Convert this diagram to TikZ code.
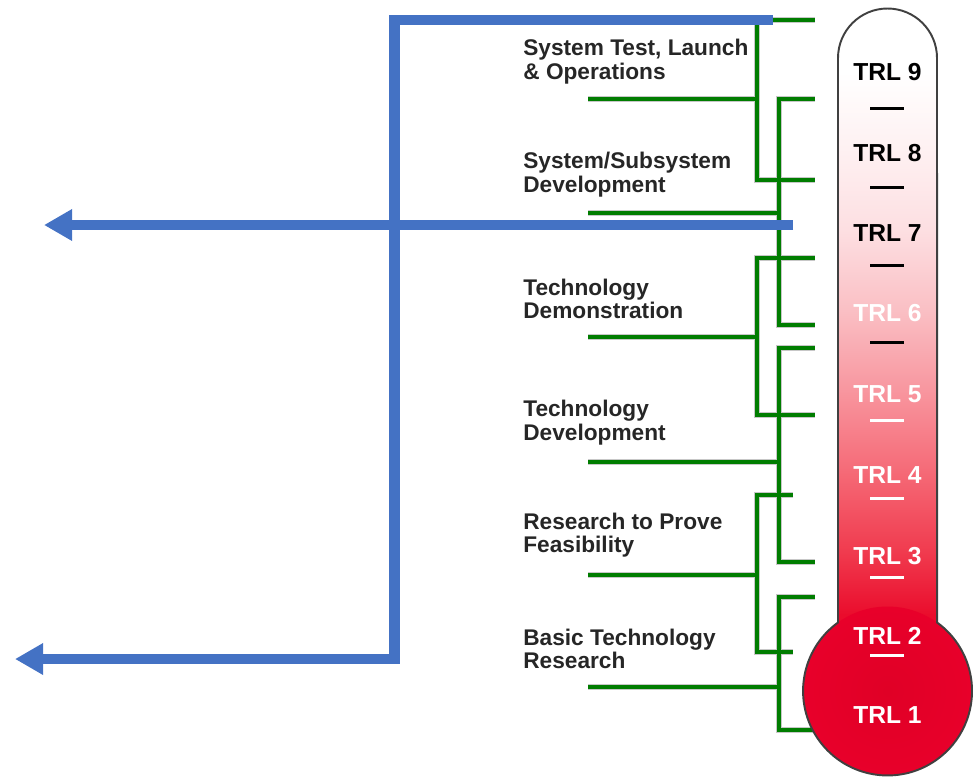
\documentclass[tikz,border=0pt]{standalone}
\usepackage{fontspec}
\setmainfont{Liberation Sans}
\usetikzlibrary{arrows.meta}

\definecolor{arrowblue}{RGB}{68,114,196}
\definecolor{stemgreen}{RGB}{0,125,0}
\definecolor{bulbred}{RGB}{232,0,42}
\definecolor{bulbcore}{RGB}{224,0,38}
\definecolor{redeight}{RGB}{254,240,241}
\definecolor{redseven}{RGB}{253,222,225}
\definecolor{redsix}{RGB}{250,190,195}
\definecolor{redfive}{RGB}{248,148,157}
\definecolor{redfour}{RGB}{245,104,117}
\definecolor{redthree}{RGB}{240,56,76}
\definecolor{redtwo}{RGB}{234,12,44}
\definecolor{labelgray}{RGB}{38,38,38}

\begin{document}
\begin{tikzpicture}[x=0.02cm, y=-0.02cm, >={Triangle[length=16pt,width=17pt]},
  trl/.style={font=\fontsize{14}{16}\selectfont\bfseries, inner sep=0pt},
  stage/.style={font=\fontsize{12.9}{13.4}\selectfont\bfseries, text=labelgray,
    align=left, anchor=west, inner sep=0pt},
  flow/.style={draw=arrowblue, line width=5.7pt},
  stem/.style={draw=stemgreen, line width=2.3pt},
  stemhalo/.style={draw=black!22, line width=3.2pt}]
  \useasboundingbox (0,0) rectangle (973,779);

  % stage labels
  \node (test) [stage] at (523,61.5) {System Test, Launch\\\& Operations};
  \node (subsys) [stage] at (523,174.5) {System/Subsystem\\Development};
  \node (demo) [stage] at (523,299) {Technology\\Demonstration};
  \node (devel) [stage] at (523,422.5) {Technology\\Development};
  \node (feas) [stage] at (523,535) {Research to Prove\\Feasibility};
  \node (basic) [stage] at (523,649) {Basic Technology\\Research};

  % green brackets: spine x / top / bottom / pointer y / tick end
  \foreach \sx/\top/\bot/\mid/\tip in {757/20/180/99/815, 779/99/325/213/815,
      757/258/415/337/815, 779/348/562/462/815, 757/495/652/575/793,
      779/597/730/687/815} {
    \path[stemhalo] (\tip,\top) -- (\sx,\top) -- (\sx,\bot) -- (\tip,\bot);
    \path[stemhalo] (588,\mid) -- (\sx,\mid);
  }
  \foreach \sx/\top/\bot/\mid/\tip in {757/20/180/99/815, 779/99/325/213/815,
      757/258/415/337/815, 779/348/562/462/815, 757/495/652/575/793,
      779/597/730/687/815} {
    \path[stem] (\tip,\top) -- (\sx,\top) -- (\sx,\bot) -- (\tip,\bot);
    \path[stem] (588,\mid) -- (\sx,\mid);
  }

  % thermometer
  \begin{scope}
    \clip (838,58) -- (838,622.5)
      arc[start angle=234.1, end angle=-54.1, radius=84.5] -- (937,58)
      arc[start angle=0, end angle=-180, radius=49.5] -- cycle;
    \foreach \ya/\yb/\ca/\cb in {0/72/white/white, 72/153/white/redeight,
        153/233/redeight/redseven, 233/313/redseven/redsix,
        313/394/redsix/redfive, 394/475/redfive/redfour,
        475/556/redfour/redthree, 556/615/redthree/redtwo,
        615/700/redtwo/bulbred}
      \shade[top color=\ca, bottom color=\cb] (830,\ya-0.5) rectangle (945,\yb+0.5);
  \end{scope}
  \shade[inner color=bulbcore, outer color=bulbred] (887.5,691) circle[radius=84.5];
  \draw[black!75, line width=1.1pt] (838,58) -- (838,622.5)
    arc[start angle=234.1, end angle=-54.1, radius=84.5] -- (937,58)
    arc[start angle=0, end angle=-180, radius=49.5] -- cycle;

  \node (trl9) [trl] at (887.5,72) {TRL 9};
  \node (trl8) [trl] at (887.5,153) {TRL 8};
  \node (trl7) [trl] at (887.5,233) {TRL 7};
  \node (trl6) [trl, text=white] at (887.5,313) {TRL 6};
  \node (trl5) [trl, text=white] at (887.5,394) {TRL 5};
  \node (trl4) [trl, text=white] at (887.5,475) {TRL 4};
  \node (trl3) [trl, text=white] at (887.5,556) {TRL 3};
  \node (trl2) [trl, text=white] at (887.5,636) {TRL 2};
  \node (trl1) [trl, text=white] at (887.5,715) {TRL 1};
  \foreach \y/\c in {108/black, 187/black, 265/black, 342/black,
      420/white, 498/white, 577/white, 655/white}
    \draw[\c, line width=1.7pt] (870,\y) -- (904,\y);

  % blue arrows
  \coordinate (topstart) at (773,20);
  \coordinate (topcorner) at (394.5,20);
  \coordinate (lowcorner) at (394.5,659);
  \coordinate (lowout) at (15,659);
  \coordinate (midstart) at (793,225);
  \coordinate (midout) at (44,225);
  \draw[flow, ->] (topstart) -- (topcorner) -- (lowcorner) -- (lowout);
  \draw[flow, ->] (midstart) -- (midout);
\end{tikzpicture}
\end{document}
